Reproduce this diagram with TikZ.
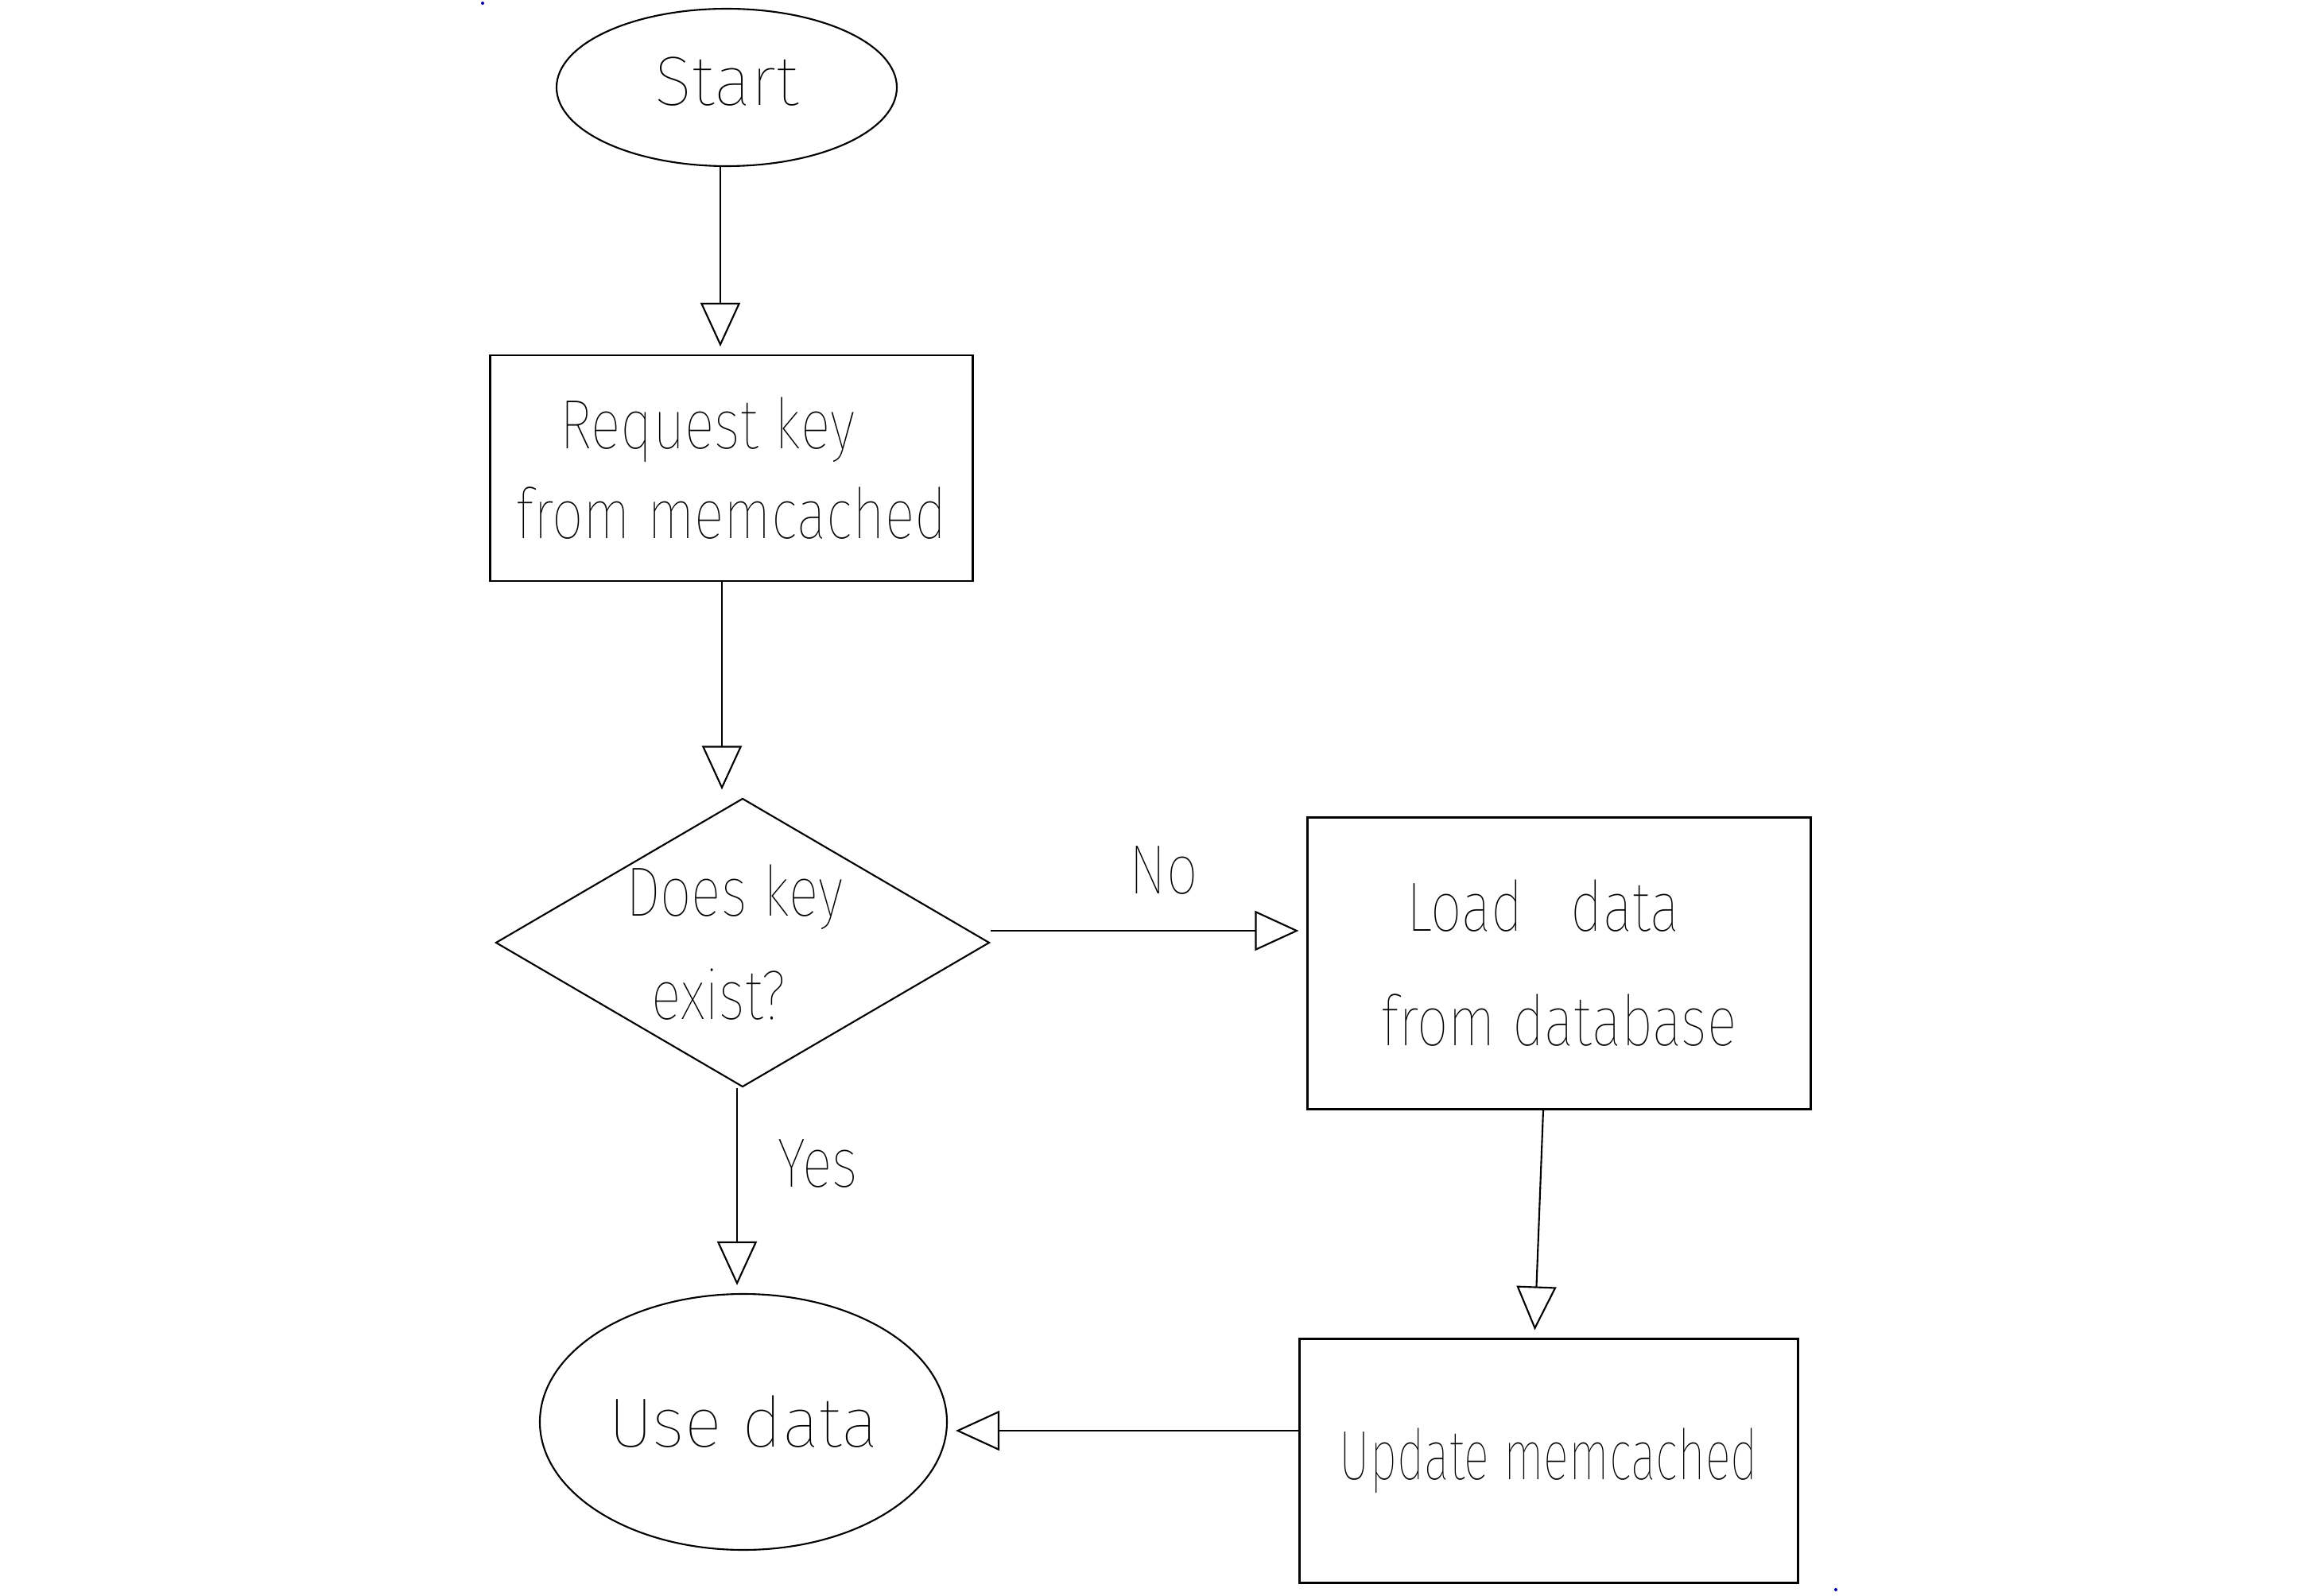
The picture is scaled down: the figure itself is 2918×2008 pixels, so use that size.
\documentclass[tikz,border=0pt]{standalone}
\usepackage{fontspec}
\setmainfont{Fira Sans}[UprightFont=* Thin, FakeStretch=0.8]
\newfontfamily\handwide{Fira Sans}[UprightFont=* Thin, FakeStretch=1.0]
\newfontfamily\handnarrow{Fira Sans}[UprightFont=* Thin, FakeStretch=0.68]
\usetikzlibrary{shapes.geometric,arrows.meta}
\begin{document}
\begin{tikzpicture}[x=0.1mm,y=-0.1mm,
  every node/.style={font=\fontsize{25}{30}\selectfont, inner sep=0pt},
  outline/.style={draw, line width=0.6pt},
  terminal/.style={outline, ellipse},
  process/.style={outline, rectangle, align=center},
  decision/.style={outline, diamond, align=center, aspect=1.71},
  flow/.style={line width=0.6pt, -{Triangle[open, length=5.5mm, width=5mm]}, shorten >=1mm},
  lbl/.style={inner sep=0pt}]
\useasboundingbox (0,0) rectangle (2918,2008);

% shapes
\node[terminal, minimum width=42.8mm, minimum height=19.8mm,
      font=\fontsize{25}{30}\handwide] (start) at (914,110) {\raisebox{1.5mm}{Start}};
\node[process, minimum width=60.7mm, minimum height=28.4mm] (req) at (920,589)
  {\hspace*{-6mm}Request key\\[2pt]from memcached};
\node[decision, minimum width=62.1mm, minimum height=36.3mm] (dia) at (934,1186)
  {\hspace*{-2mm}Does key\\[7pt]\hspace*{-6mm}exist?};
\node[process, minimum width=63.3mm, minimum height=36.7mm] (load) at (1961,1212)
  {\hspace*{-4mm}Load\hspace{6mm}data\\[11pt]from database};
\node[process, minimum width=62.7mm, minimum height=30.7mm,
      font=\fontsize{25}{30}\handnarrow] (upd) at (1948,1838)
  {Update memcached};
\node[terminal, minimum width=51.2mm, minimum height=32.2mm,
      font=\fontsize{25}{30}\handwide] (use) at (935,1789) {Use data};

% connectors
\draw[flow] ([xshift=-0.8mm]start.south) -- ([xshift=-0.8mm]start.south |- req.north);
\draw[flow] ([xshift=-1.2mm]req.south) -- ([xshift=-1.2mm]req.south |- dia.north);
\draw[flow] ([yshift=1.5mm]dia.east) -- node[lbl, pos=0.5, above=4.5mm, xshift=1.9mm] (no) {No}
  ([yshift=1.5mm]dia.east -| load.west);
\draw[flow] ([xshift=-2mm]load.south) -- ([xshift=-1.8mm]upd.north);
\draw[flow] ([yshift=3.8mm]upd.west) -- ([yshift=3.8mm]upd.west -| use.east);
\draw[flow] ([xshift=-0.7mm]dia.south) -- node[lbl, pos=0.37, right=5mm] (yes) {Yes}
  ([xshift=-0.7mm]dia.south |- use.north);

% stray pen dots
\fill[blue!70!black] (607,4) circle (2);
\fill[blue!70!black] (2309,2000) circle (2);
\end{tikzpicture}
\end{document}
